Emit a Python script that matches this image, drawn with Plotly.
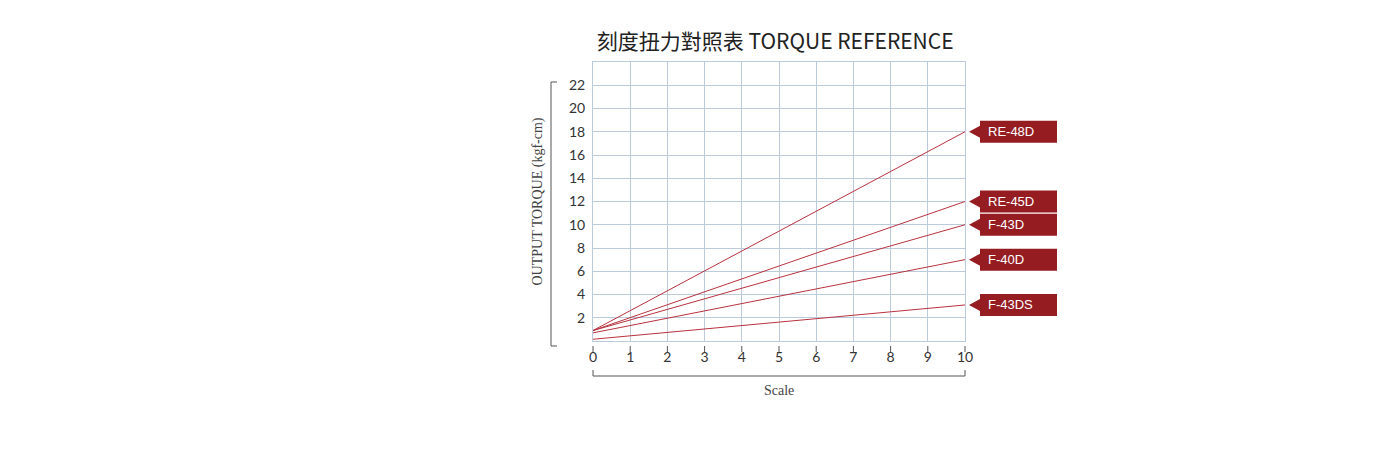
import plotly.graph_objects as go

# torque reference data
models = ["RE-48D", "RE-45D", "F-43D", "F-40D", "F-43DS"]
scale = [0, 10]
torque_start = [0.9, 0.9, 0.9, 0.7, 0.15]
torque_end = [18, 12, 10, 7, 3.1]

x_ticks = list(range(0, 11))
y_ticks = list(range(2, 23, 2))
X_MAX, Y_MAX = 10, 24

LINE_RED = "#b8323e"
BOX_RED = "#951d22"
GRID = "#bccbdc"
TICK_FONT = dict(family="Lato, Noto Sans, sans-serif", size=14, color="#333333")
SERIF = "Liberation Serif, DejaVu Serif, serif"

fig = go.Figure()

for name, y0, y1 in zip(models, torque_start, torque_end):
    fig.add_trace(go.Scatter(x=scale, y=[y0, y1], mode="lines", name=name,
                             line=dict(color=LINE_RED, width=1), showlegend=False,
                             hoverinfo="skip"))
    # flag label: arrow + box, anchored at the line end (domain refs are not clipped)
    fig.add_shape(type="path", xref="x domain", yref="y domain",
                  xsizemode="pixel", ysizemode="pixel",
                  xanchor=1, yanchor=y1 / Y_MAX,
                  path="M 4 0 L 15 6 L 15 11 L 92 11 L 92 -11 L 15 -11 L 15 -6 Z",
                  fillcolor=BOX_RED, line=dict(width=0), layer="above")
    fig.add_annotation(x=1, y=y1 / Y_MAX, xref="x domain", yref="y domain", text=name,
                       showarrow=False, xanchor="left", yanchor="middle", xshift=21,
                       font=dict(family="Liberation Sans, Arial, sans-serif", size=13,
                                 color="white"))

# x tick marks (detached from the axis)
for t in x_ticks:
    fig.add_shape(type="line", xref="x domain", yref="y domain", ysizemode="pixel",
                  yanchor=0, x0=t / X_MAX, x1=t / X_MAX, y0=-5, y1=-11,
                  line=dict(color="#555555", width=1))

# bottom bracket
fig.add_shape(type="path", xref="x domain", yref="y domain", ysizemode="pixel", yanchor=0,
              path="M 0,-29 L 0,-35 L 1,-35 L 1,-29",
              line=dict(color="#555555", width=1))
# left bracket
fig.add_shape(type="path", xref="x domain", yref="y domain", xsizemode="pixel",
              ysizemode="pixel", xanchor=0, yanchor=0,
              path="M -36,259 L -42,259 L -42,-5 L -36,-5",
              line=dict(color="#555555", width=1))

fig.add_annotation(text="OUTPUT TORQUE (kgf-cm)", xref="paper", yref="paper",
                   x=0, y=0.5, xanchor="center", yanchor="middle", xshift=-56,
                   textangle=-90, showarrow=False,
                   font=dict(family=SERIF, size=14, color="#444444"))
fig.add_annotation(text="Scale", xref="paper", yref="paper", x=0.5, y=0,
                   xanchor="center", yanchor="middle", yshift=-49, showarrow=False,
                   font=dict(family=SERIF, size=14, color="#444444"))

fig.update_layout(
    width=1400, height=455,
    margin=dict(l=585, r=443, t=54, b=122),
    paper_bgcolor="white", plot_bgcolor="white",
    title=dict(text="刻度扭力對照表 TORQUE REFERENCE", x=0.548, xanchor="center",
               y=0.927, yanchor="middle",
               font=dict(family="Noto Sans CJK TC, sans-serif", size=21, color="#222222")),
)
fig.update_xaxes(range=[0, X_MAX], tickvals=x_ticks, showgrid=True, gridcolor=GRID,
                 gridwidth=1, showline=True, linecolor=GRID, mirror=True, zeroline=False,
                 ticks="outside", ticklen=3, tickcolor="rgba(0,0,0,0)",
                 tickfont=TICK_FONT)
fig.update_yaxes(range=[0, Y_MAX], tickvals=y_ticks, showgrid=True, gridcolor=GRID,
                 gridwidth=1, showline=True, linecolor=GRID, mirror=True, zeroline=False,
                 ticks="outside", ticklen=4, tickcolor="rgba(0,0,0,0)",
                 tickfont=TICK_FONT)

fig.write_html("out.html")
